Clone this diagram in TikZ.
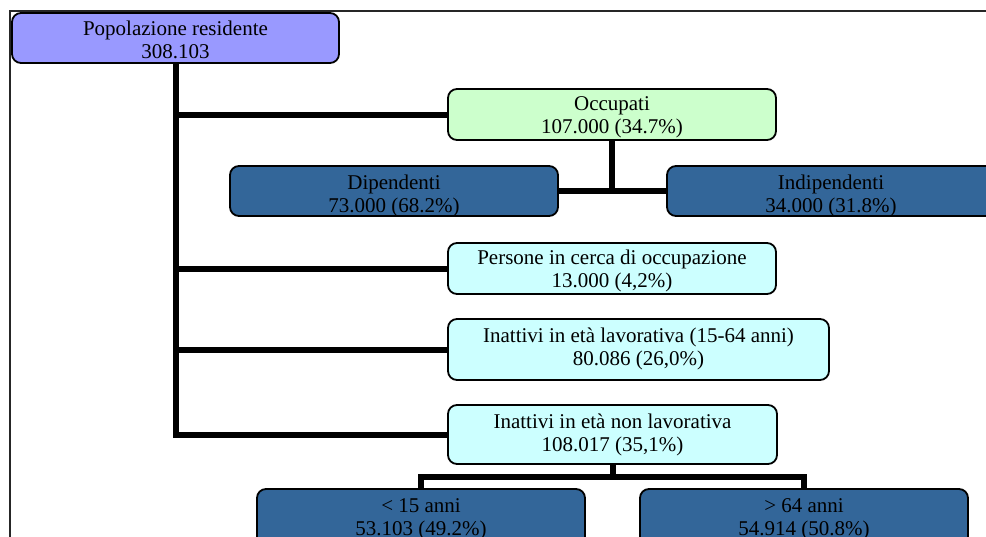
\documentclass[tikz,border=0pt]{standalone}
\usepackage{fontspec}
\setmainfont{Liberation Serif}
\definecolor{cpop}{HTML}{9999FF}
\definecolor{cocc}{HTML}{CCFFCC}
\definecolor{ccyan}{HTML}{CCFFFF}
\definecolor{cblue}{HTML}{336699}
\tikzset{
  boxs/.style={inner sep=0pt, outer sep=0pt, rounded corners=9pt},
  txt/.style={inner sep=0pt, align=center, anchor=base, font=\fontsize{21}{23.5}\selectfont, text=black},
  border/.style={draw=black, line width=1.8pt, rounded corners=9pt},
  conn/.style={draw=black, line width=6pt},
  frame/.style={draw=black!85, line width=1.6pt}
}
\newcommand\bx[6]{\node[boxs, fill=#2, minimum width=#5, minimum height=#6] (#1) at (#3,#4) {};}
\newcommand\bt[4]{%
  \begin{scope}
    \clip[rounded corners=9pt] (#1.south west) rectangle (#1.north east);
    \node[txt] (#1t) at (#2,#3) {#4};
  \end{scope}
  \draw[border] (#1.south west) rectangle (#1.north east);}
\begin{document}
\begin{tikzpicture}[x=1pt,y=-1pt]
\useasboundingbox (0,0) rectangle (986,536);
\clip (0,0) rectangle (986,536);
\fill[white] (0,0) rectangle (986,536);
\draw[frame] (10,545) -- (10,11) -- (995,11);
% boxes
\bx{pop}{cpop}{175.5}{38}{327}{50}
\bx{occ}{cocc}{612}{114.5}{328}{51}
\bx{dip}{cblue}{394}{191}{328}{50}
\bx{ind}{cblue}{831}{191}{328}{50}
\bx{pers}{ccyan}{612}{268.5}{328}{51}
\bx{inl}{ccyan}{638.5}{349.5}{381}{61}
\bx{innl}{ccyan}{612.5}{434.5}{329}{59}
\bx{uqu}{cblue}{421}{519}{328}{60}
\bx{ose}{cblue}{804}{519}{328}{60}
\coordinate (jn) at (612.5,477);
% connectors
\draw[conn] (pop.south) |- (occ.west);
\draw[conn] (pop.south) |- (pers.west);
\draw[conn] (pop.south) |- (inl.west);
\draw[conn] (pop.south) |- (innl.west);
\draw[conn] (dip.east) -- (ind.west);
\draw[conn] (occ.south) -- (occ.south |- dip.east);
\draw[conn] (innl.south) -- (jn);
\draw[conn] (uqu.north) |- (jn) -| (ose.north);
% texts and borders
\bt{pop}{175.5}{58.5}{Popolazione residente\\308.103}
\bt{occ}{612}{133.5}{Occupati\\107.000 (34.7\%)}
\bt{dip}{394}{212.5}{Dipendenti\\73.000 (68.2\%)}
\bt{ind}{831}{212.5}{Indipendenti\\34.000 (31.8\%)}
\bt{pers}{612}{287.5}{Persone in cerca di occupazione\\13.000 (4,2\%)}
\bt{inl}{638.5}{365.5}{Inattivi in età lavorativa (15-64 anni)\\80.086 (26,0\%)}
\bt{innl}{612.5}{451.5}{Inattivi in età non lavorativa\\108.017 (35,1\%)}
\bt{uqu}{421}{535.5}{< 15 anni\\53.103 (49.2\%)}
\bt{ose}{804}{535.5}{> 64 anni\\54.914 (50.8\%)}
\end{tikzpicture}
\end{document}
